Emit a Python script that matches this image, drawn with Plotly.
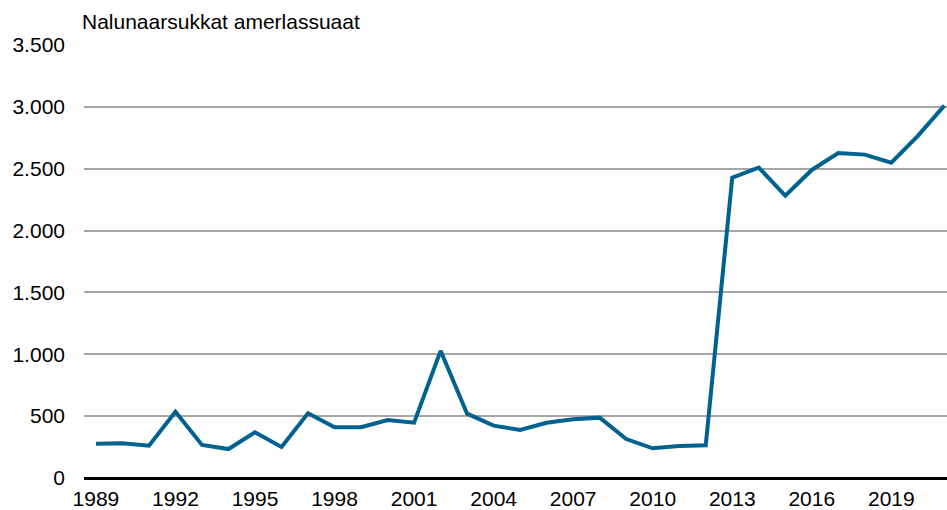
import plotly.graph_objects as go

years = list(range(1989, 2022))
values = [277, 280, 261, 536, 267, 234, 369, 251, 523, 410, 410, 469, 447, 1028,
          520, 423, 388, 447, 474, 488, 315, 240, 259, 264, 2428, 2509, 2282, 2490,
          2627, 2614, 2549, 2765, 3010]
tick_years = list(range(1989, 2022, 3))
title_text = "Nalunaarsukkat amerlassuaat"

fig = go.Figure()
fig.add_trace(go.Scatter(x=years, y=values, mode="lines",
                         line=dict(color="#00628F", width=4), hoverinfo="x+y"))

fig.update_layout(
    width=947, height=510,
    margin=dict(l=84, r=0, t=45, b=32),
    paper_bgcolor="white", plot_bgcolor="white",
    separators=",.",
    showlegend=False,
    font=dict(family="Liberation Sans, Arial, sans-serif", size=21, color="black"),
    xaxis=dict(range=[1988.55, 2021.1], tickmode="array", tickvals=tick_years,
               ticktext=[str(y) for y in tick_years], showgrid=False, zeroline=False,
               showline=False, ticks="", ticklabelstandoff=6, automargin=False,
               tickfont=dict(size=21)),
    yaxis=dict(range=[0, 3500], tickvals=[0, 500, 1000, 1500, 2000, 2500, 3000, 3500],
               tickformat=",d", showgrid=True, gridcolor="#A6A6A6", gridwidth=1.5,
               zeroline=True, zerolinecolor="black", zerolinewidth=2.5, automargin=False,
               showline=False, ticks="", ticklabelstandoff=18, tickfont=dict(size=21)),
    annotations=[dict(text=title_text, xref="paper", yref="paper", x=-0.005, y=1,
                      xanchor="left", yanchor="bottom", yshift=10, showarrow=False,
                      font=dict(size=21))],
)

fig.write_html("out.html", config={"displayModeBar": False},
               post_script="document.body.style.margin='0';document.body.style.overflow='hidden';")
